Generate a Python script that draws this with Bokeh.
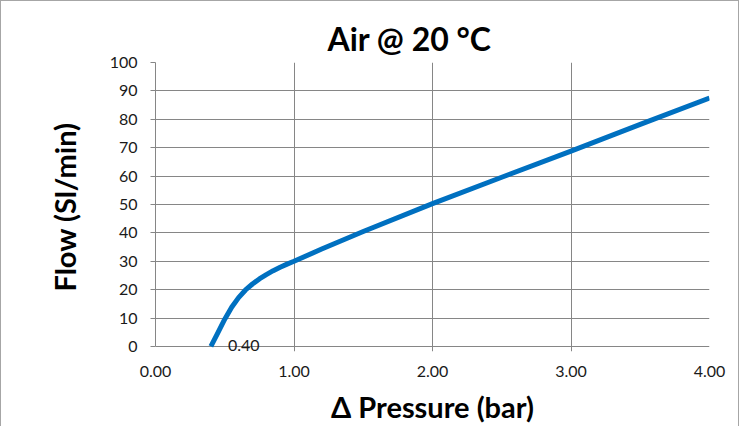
from bokeh.plotting import figure
from bokeh.models import Range1d, FixedTicker, NumeralTickFormatter, Label
from bokeh.embed import file_html
from bokeh.resources import INLINE

# Data
pressure = [0.40, 0.45, 0.50, 0.55, 0.60, 0.65, 0.70, 0.75, 0.80, 0.85, 0.90, 0.95, 1.00,
            1.20, 1.50, 2.00, 2.50, 3.00, 3.50, 4.00]
flow = [0.0, 4.8, 9.6, 13.8, 17.2, 19.9, 22.0, 23.8, 25.3, 26.7, 27.9, 29.0, 30.0,
        34.3, 40.5, 50.3, 59.6, 68.8, 78.2, 87.5]
x_ticks = [0, 1, 2, 3, 4]
y_ticks = [0, 10, 20, 30, 40, 50, 60, 70, 80, 90, 100]
title_text = "Air @ 20 °C"
x_label = "Δ Pressure (bar)"
y_label = "Flow (Sl/min)"
start_label = "0.40"

FONT = "Lato"
GRID = "#868686"
BORDER = "1px solid #a6a6a6"

W, H = 739, 426
ML, MR, MT, MB = 154, 31, 61, 76
TICK_PX = 5                      # x tick marks below the zero line
frame_h = (H - 1) - MT - MB      # canvas height minus top/bottom borders
X0, X1, Y1 = 0, 4, 100
Y0 = -TICK_PX / (frame_h - TICK_PX) * Y1

p = figure(width=W, height=H, output_backend="svg", toolbar_location=None,
           x_range=Range1d(X0, X1), y_range=Range1d(Y0, Y1),
           min_border_left=ML, min_border_right=MR, min_border_top=MT, min_border_bottom=MB)
p.outline_line_color = None
p.styles = {"border-top": BORDER, "border-left": BORDER, "border-right": BORDER,
            "box-sizing": "border-box"}

p.title.text = title_text
p.title.align = "left"
p.title.offset = 172
p.title.standoff = 10
p.title.text_font = FONT
p.title.text_font_style = "bold"
p.title.text_font_size = "32px"
p.title.text_color = "#000000"

p.line(pressure, flow, line_width=5, line_color="#0070C0", line_join="round")

for ax in (p.xaxis[0], p.yaxis[0]):
    ax.minor_tick_line_color = None
    ax.major_label_text_font = FONT
    ax.major_label_text_font_size = "16px"
    ax.major_label_text_color = "#1a1a1a"
    ax.axis_label_text_font = FONT
    ax.axis_label_text_font_style = "bold"
    ax.axis_label_text_font_size = "29px"
    ax.axis_label_text_color = "#000000"

# y axis: line from 0 to 100, ticks outside
p.yaxis.bounds = (0, Y1)
p.yaxis.axis_line_color = GRID
p.yaxis.major_tick_line_color = GRID
p.yaxis.major_tick_in = 0
p.yaxis.major_tick_out = 5
p.yaxis.ticker = FixedTicker(ticks=y_ticks)
p.yaxis.major_label_standoff = 13
p.yaxis.axis_label = y_label
p.yaxis.axis_label_standoff = 25

# x axis: zero line comes from the y grid, tick marks from the x grid running below zero
p.xaxis.axis_line_color = None
p.xaxis.major_tick_line_color = None
p.xaxis.major_tick_in = 0
p.xaxis.major_tick_out = 0
p.xaxis.ticker = FixedTicker(ticks=x_ticks)
p.xaxis.formatter = NumeralTickFormatter(format="0.00")
p.xaxis.major_label_standoff = 14
p.xaxis.axis_label = x_label
p.xaxis.axis_label_standoff = 9

p.xgrid.ticker = FixedTicker(ticks=x_ticks)
p.ygrid.ticker = FixedTicker(ticks=y_ticks)
p.xgrid.grid_line_color = GRID
p.ygrid.grid_line_color = GRID

p.add_layout(Label(x=pressure[0], y=flow[0], x_offset=17, y_offset=1,
                   text=start_label, text_align="left", text_baseline="middle",
                   text_font=FONT, text_font_size="16px", text_color="#1a1a1a"))

open("out.html", "w").write(file_html(p, INLINE))
